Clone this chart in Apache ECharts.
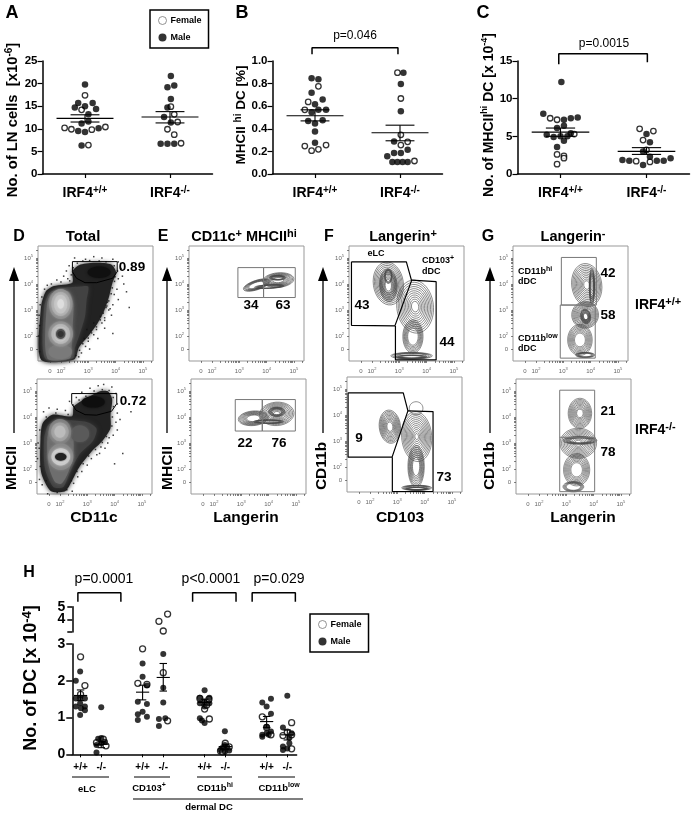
<!DOCTYPE html>
<html>
<head>
<meta charset="utf-8">
<title>IRF4 DC</title>
<script src="https://cdn.jsdelivr.net/npm/echarts@6/dist/echarts.min.js"></script>
<style>
html,body{margin:0;padding:0;background:#fff;}
#chart{width:695px;height:816px;}
</style>
</head>
<body>
<div id="chart"></div>
<script>
// A: LN cells
var aFemale = [[1.0,17.4],[.96,14.2],[.76,10.2],[.84,9.9],[1.08,9.8],[1.24,10.4],[1.04,6.4],[2.01,14.9],[2.05,13.2],[2.09,11.5],[1.97,9.9],[2.05,8.7],[2.13,6.8]];
var aMale = [[1.0,19.8],[.92,15.7],[1.09,15.7],[.88,14.7],[1.0,15],[1.13,14.4],[1.04,13.2],[1.04,11.6],[.96,11.2],[.92,9.5],[1.0,9.3],[1.16,10.1],[.96,6.3],[2.01,21.7],[1.97,19.2],[2.05,19.6],[2.01,16.6],[1.97,14.7],[1.93,12.6],[2.01,11.4],[1.89,6.7],[1.97,6.7],[2.05,6.7]];
var aMean = [[1,12.3,11.5,13.1],[2,12.6,11.3,13.8]];
// B: MHCII hi %
var bFemale = [[1.04,.776],[.92,.638],[.88,.568],[.88,.247],[1.13,.256],[.96,.206],[1.04,.218],[1.97,.897],[2.01,.668],[2.01,.347],[2.01,.256],[2.09,.285],[2.17,.115]];
var bMale = [[.96,.847],[1.04,.838],[.96,.718],[1.09,.659],[1.0,.618],[.96,.547],[1.04,.568],[1.13,.568],[.92,.468],[1.09,.476],[1.0,.447],[1.0,.376],[1.0,.276],[2.04,.897],[2.01,.797],[2.01,.556],[1.93,.288],[2.09,.215],[1.85,.156],[1.93,.185],[2.01,.185],[1.91,.106],[1.97,.106],[2.03,.106],[2.09,.106]];
var bMean = [[1,.515,.47,.568],[2,.365,.294,.432]];
var bBracket = [[.965,1.06],[.965,1.118],[1.976,1.118],[1.976,1.06]];
// C: MHCII hi number
var cFemale = [[.88,7.4],[.96,7.2],[1.16,5.3],[.96,2.6],[1.04,2.4],[1.04,2.1],[.96,1.3],[1.92,6],[2.08,5.7],[1.96,4.5],[1.88,1.7],[2.04,1.6],[2,3.2]];
var cMale = [[1.01,12.2],[.8,8],[1.04,7.2],[1.12,7.4],[1.2,7.5],[1.04,6.4],[.96,6.1],[.84,5.2],[.92,4.9],[1.0,5],[1.08,5],[1.12,5.4],[1.04,4.4],[.96,3.6],[2,5.3],[2.04,4.2],[1.96,3],[2.04,2.3],[1.72,1.85],[1.8,1.75],[1.96,1.2],[2.12,1.75],[2.2,1.75],[2.28,2.1]];
var cMean = [[1,5.56,5,6.1],[2,3,2.6,3.5]];
var cBracket = [[.98,14.56],[.98,15.97],[2.01,15.97],[2.01,14.82]];
// H: DC subsets, lower part 0-3 and upper part 3-5 of the broken axis
var hFemale = [[1,2.65],[1.21,1.87],[1,1.63],[1.77,.32],[2.23,.23],[2.1,.41],[4,2.87],[3.77,1.93],[4.21,1.9],[5,2.22],[5.21,.91],[6.77,1.52],[7.21,1.5],[7,1.23],[7.23,.96],[7.1,1.34],[8,.3],[7.77,.09],[8.19,.2],[7.87,.07],[9.79,1.02],[10,.73],[10.21,.53],[11.21,.86],[10.79,.51],[11,.6],[11.21,.15],[11.21,.53]];
var hMale = [[.98,2.25],[.77,2],[.77,1.52],[.98,1.07],[1.21,1.52],[.77,1.3],[1.21,1.3],[1.21,1.2],[.98,1.39],[.98,1.54],[1.02,1.25],[2,1.28],[1.77,.05],[2,.44],[1.77,.25],[2.18,.34],[2,.3],[1.85,.42],[4,2.47],[4,2.11],[3.77,1.43],[4.21,1.37],[3.77,1.09],[4.21,1.02],[3.77,.93],[4,1.16],[4.21,1.87],[5,2.73],[5,1.81],[5,1.41],[4.79,.96],[5.1,.98],[4.79,.77],[7,1.74],[6.77,1.54],[7.23,1.54],[7,1.43],[6.77,1.39],[7.23,1.39],[7,1.3],[6.77,.98],[6.87,.92],[7,.85],[7.98,.63],[7.77,.12],[7.98,.07],[8.19,.1],[7.87,.18],[8.1,.2],[7.98,.25],[9.79,1.41],[10.21,1.51],[10,1.3],[10.21,1.1],[9.79,.53],[9.79,.48],[10,.57],[10.21,.62],[10,.75],[10.1,.53],[11,1.59],[10.79,.73],[11.1,.44],[10.79,.21],[10.79,.12],[11.21,.57],[11.1,.3],[11,.16]];
var hFemaleTop = [[5.21,4.42],[4.79,3.84],[5,3.08]];
var hMean = [[1,1.6,1.46,1.75],[2,.27,.18,.34],[4,1.69,1.48,1.88],[5,2.09,1.72,2.47],[7,1.41,1.34,1.5],[8,.21,.14,.27],[10,.89,.73,1.03],[11,.53,.39,.66]];
var hBracket1 = [[.87,5.39],[.87,6.1],[2.95,6.1],[2.95,5.39]];
var hBracket2 = [[6.42,5.39],[6.42,6.1],[8.52,6.1],[8.52,5.39]];
var hBracket3 = [[9.3,5.39],[9.3,6.1],[11.39,6.1],[11.39,5.39]];
var hTicks = [1,2,4,5,7,8,10,11];
var hTickLabels = ['+/+','-/-','+/+','-/-','+/+','-/-','+/+','-/-'];

// flow plots: axes in log10 decades, "0" sits below 10^2
var flowMajor = [2,3,4,5];
var flowMinor = [1.6,2,2.3,2.48,2.6,2.7,2.78,2.85,2.9,2.95,3,3.3,3.48,3.6,3.7,3.78,3.85,3.9,3.95,4,4.3,4.48,4.6,4.7,4.78,4.85,4.9,4.95,5,5.3];
var contourLevels = [1,.92,.84,.76,.68,.6,.52,.44,.36,.28,.2,.12];

// D density: outline polygons then lobes [x,y,rx,ry,grey]
var dTopLayers = [
    {grey:34, pts:[[1.27,1.1],[1.27,3.1],[1.45,3.72],[1.75,3.92],[2.42,4.05],[2.42,4.5],[2.72,4.75],[3.31,4.82],[3.84,4.75],[4.02,4.45],[3.88,4.03],[3.76,3.51],[3.57,2.94],[3.33,2.47],[3.02,2.02],[2.66,1.57],[2.48,1.1]]},
    {grey:66, pts:[[1.42,1.15],[1.38,3.07],[1.57,3.64],[1.96,3.83],[2.7,3.9],[3,3.9],[2.94,3.39],[2.88,2.75],[2.7,2.11],[2.51,1.53],[2.45,1.15]]},
    {grey:110, pts:[[1.5,1.15],[1.48,3.13],[1.66,3.64],[2.27,3.71],[2.45,3.26],[2.43,2.36],[2.39,1.59],[2.33,1.15]]}
];
var dTopLobes = [[3.4,4.45,.42,.22,16],[1.97,1.4,.43,.28,122],[1.99,3.23,.43,.58,142],[1.99,3.23,.34,.46,174],[1.99,3.23,.24,.36,196],[1.99,3.23,.12,.18,222],[1.99,2.08,.45,.49,140],[1.99,2.08,.34,.38,181],[1.99,2.08,.24,.28,208],[1.99,2.08,.17,.19,85],[1.99,2.08,.11,.115,51]];
var dTopGate = [[2.42,4.86],[4.06,4.86],[4.06,4.47],[3.89,4.22],[3.31,4.05],[2.88,4.05],[2.57,4.22],[2.42,4.47],[2.42,4.86]];
var dTopEvents = [[2.1,4.3],[2.2,4.5],[2.3,4.7],[2.5,5],[2.9,4.95],[3.2,5.05],[3.5,5],[3.9,4.95],[4.1,4.85],[4.2,4.6],[4.25,4.3],[4.1,4.2],[4.3,4],[4.05,3.8],[3.95,3.6],[4.1,3.4],[3.9,3.2],[3.75,3],[3.85,2.8],[3.6,2.7],[3.5,2.5],[3.6,2.3],[3.3,2.25],[3.2,2.05],[3.35,1.9],[3,1.8],[2.9,1.6],[3.05,1.5],[2.75,1.35],[2.65,1.2],[4.6,4.8],[4.4,3.7],[4.5,3.1],[3.9,2.1],[1.18,2],[1.2,2.8],[1.3,3.5],[1.5,3.95],[1.85,4.15],[2.25,4.2],[3.7,3.3],[3.65,3.1],[3.45,2.75],[3.1,2.2],[2.85,1.9],[2.45,4.62],[2.6,4.8],[2.8,4.88],[3.05,4.9],[3.4,4.88],[3.65,4.85],[3.95,4.7],[4.07,4.5],[3.98,4.28],[3.96,4.1],[3.88,3.85],[3.84,3.62],[3.75,3.35],[3.68,3.15],[3.55,2.88],[3.44,2.62],[3.3,2.35],[3.12,2.12],[3,1.92],[2.8,1.7],[2.68,1.45],[2.55,1.25],[1.22,1.4],[1.22,2.4],[1.24,3.2],[1.4,3.8],[1.65,4],[2,4.08],[2.32,4.12],[2.38,4.35],[3.8,3.05],[3.6,2.6],[3.2,2.5],[2.95,2.25]];
var dBotLayers = [
    {grey:34, pts:[[1.66,1.16],[1.31,1.89],[1.29,3.17],[1.37,3.77],[1.72,4.09],[2.45,4.03],[2.51,4.41],[3,4.73],[3.47,4.99],[3.75,4.99],[3.91,4.69],[3.85,4.07],[3.85,3.57],[3.55,3.08],[3.18,2.7],[2.7,2.06],[2.34,1.35],[2.17,1.14]]},
    {grey:66, pts:[[1.76,1.31],[1.45,2.02],[1.42,3.17],[1.57,3.68],[2,3.87],[2.98,3.81],[3.34,3.55],[3.22,3.1],[2.73,2.59],[2.37,1.89],[2.12,1.31]]},
    {grey:110, pts:[[1.82,1.5],[1.58,2.15],[1.54,3.17],[1.7,3.68],[2.25,3.73],[2.47,3.36],[2.49,2.53],[2.31,1.89],[2.06,1.44]]}
];
var dBotLobes = [[3.22,4.58,.42,.22,14],[2.73,3.36,.34,.32,90],[2,3.43,.41,.49,126],[2,3.43,.32,.36,160],[2,3.43,.2,.23,188],[2.03,2.47,.46,.51,138],[2.03,2.47,.34,.33,200],[2.03,2.47,.27,.23,228],[2.03,2.47,.21,.15,34]];
var dBotGate = [[2.43,4.9],[4.08,4.9],[4.08,4.51],[3.89,4.22],[3.34,4.07],[2.92,4.09],[2.59,4.26],[2.43,4.51],[2.43,4.9]];
var dBotEvents = [[1.4,4.2],[1.6,4.35],[1.9,4.3],[2.2,4.25],[2.35,4.6],[2.6,4.75],[2.8,4.95],[3.1,5.1],[3.4,5.2],[3.6,5.25],[3.9,5.15],[4.05,4.9],[4.1,4.5],[4.1,4.15],[4.05,3.8],[4.1,3.5],[3.8,3.2],[3.75,3],[3.5,2.85],[3.45,2.6],[3.15,2.4],[3,2.15],[2.8,1.9],[2.65,1.7],[2.5,1.45],[2.45,1.15],[1.25,1.6],[1.35,1.4],[1.18,2.4],[1.2,3],[4.3,2.6],[4,2.2],[4.6,4.2],[2.2,1.02],[1.55,1.05],[3.35,2.55],[3.65,2.8],[3.95,3.3],[4.2,3.9],[2.48,4.46],[2.7,4.65],[2.95,4.8],[3.25,5],[3.55,5.05],[3.8,5.02],[3.95,4.75],[3.96,4.4],[3.92,4],[3.9,3.65],[3.7,3.25],[3.55,3.02],[3.3,2.75],[3.05,2.5],[2.85,2.2],[2.62,1.9],[2.42,1.55],[2.25,1.2],[1.9,1.1],[1.5,1.55],[1.28,2.1],[1.24,2.8],[1.26,3.5],[1.5,4],[1.85,4.15],[2.3,4.1]];

// contour families [x,y,rx,ry,tilt,rings]
var eTopContours = [[3.64,3.96,.51,.18,-18,6],[4.43,4.15,.57,.28,-5,9],[4.4,4.24,.3,.09,0,5],[4.1,3.9,.55,.07,-3,4]];
var eTopGate = [[[2.95,4.63],[3.89,4.63],[3.89,3.48],[2.95,3.48],[2.95,4.63]],[[3.89,4.63],[5.05,4.63],[5.05,3.48],[3.89,3.48],[3.89,4.63]]];
var eBotContours = [[3.44,3.95,.55,.28,-5,8],[4.3,4.12,.63,.45,-4,11],[4.3,4.2,.3,.18,0,6],[4,3.82,.55,.07,0,4]];
var eBotGate = [[[2.78,4.67],[3.77,4.67],[3.77,3.46],[2.78,3.46],[2.78,4.67]],[[3.77,4.67],[4.98,4.67],[4.98,3.46],[3.77,3.46],[3.77,4.67]]];
var fTopContours = [[2.6,4.02,.55,.83,-8,8],[2.6,3.95,.32,.62,-3,9],[2.6,4.3,.14,.28,0,4],[3.58,3.13,.67,1.02,-6,11],[3.5,1.98,.37,.64,0,7],[3.45,1.24,.76,.13,0,5],[3.45,1.2,.55,.07,0,5]];
var fTopGate = [[[1.25,4.85],[3.26,4.85],[3.45,4.13],[2.84,2.39],[1.25,2.41],[1.25,4.85]],[[3.45,4.15],[4.35,4.09],[4.35,1.08],[2.86,1.08],[2.86,2.39]]];
var fBotContours = [[2.73,3.55,.39,.64,-6,10],[3.69,4.26,.25,.25,0,1],[3.71,3.17,.55,.96,-4,12],[3.69,2.02,.3,.8,0,8],[3.71,1.2,.55,.1,0,5],[3.71,1.17,.4,.05,0,4]];
var fBotGate = [[[1.2,4.85],[3.22,4.85],[3.39,4.16],[2.81,2.38],[1.2,2.38],[1.2,4.85]],[[3.39,4.16],[4.31,4.13],[4.31,1.06],[2.82,1.06],[2.82,2.38]]];
var gTopContours = [[3.86,3.96,.55,.83,-8,11],[4.05,3.9,.1,.7,0,6],[3.8,2.81,.49,.51,-10,9],[3.82,2.75,.18,.28,-10,8],[3.61,1.85,.45,.6,0,8],[3.8,1.27,.35,.1,0,5]];
var gTopGate = [[[2.93,5.02],[4.21,5.02],[4.21,3.19],[2.93,3.19],[2.93,5.02]],[[2.89,3.19],[4.17,3.19],[4.17,1.15],[2.89,1.15],[2.89,3.19]]];
var gBotContours = [[3.5,4.14,.43,.58,0,10],[3.44,2.99,.67,.58,0,11],[3.5,3.1,.62,.15,0,6],[3.38,1.97,.48,.62,0,8],[3.26,1.32,.38,.2,0,5]];
var gBotGate = [[[2.76,5.03],[4.04,5.03],[4.04,1.13],[2.76,1.13],[2.76,5.03]],[[2.76,3.22],[4.04,3.22]]];

var FONT = '"Liberation Sans", Arial, sans-serif';
var myChart = echarts.init(document.getElementById('chart'));

var grids = [], xAxes = [], yAxes = [], series = [], graphics = [];

function richSup(size, supSize) {
    return {
        b: {fontFamily: FONT, fontWeight: 'bold', fontSize: size, color: '#000', fill: '#000', lineHeight: size + 3},
        s: {fontFamily: FONT, fontWeight: 'bold', fontSize: supSize, color: '#000', fill: '#000', verticalAlign: 'top', lineHeight: size + 3}
    };
}

function text(x, y, str, size, opt) {
    opt = opt || {};
    var style = {
        text: str,
        fontFamily: FONT,
        fontSize: size,
        fontWeight: opt.weight || 'bold',
        fill: '#000',
        align: opt.align || 'center',
        verticalAlign: 'middle'
    };
    if (opt.sup) {
        style.rich = richSup(size, opt.sup);
    }
    graphics.push({type: 'text', x: x, y: y, rotation: opt.vertical ? Math.PI / 2 : 0, silent: true, style: style, z: 50});
}

function addGrid(left, top, width, height, xa, ya, extra) {
    var idx = grids.length;
    grids.push(Object.assign({left: left, top: top, width: width, height: height, containLabel: false}, extra || {}));
    xa.gridIndex = idx;
    ya.gridIndex = idx;
    xAxes.push(xa);
    yAxes.push(ya);
    return idx;
}

function dots(idx, name, data, size) {
    series.push({
        name: name,
        type: 'scatter',
        xAxisIndex: idx,
        yAxisIndex: idx,
        data: data,
        symbol: 'circle',
        symbolSize: size,
        clip: false,
        itemStyle: name === 'Female'
            ? {color: '#fff', borderColor: '#000', borderWidth: 1.3}
            : {color: '#000'},
        z: name === 'Female' ? 3 : 4
    });
}

// mean line with sem whiskers
function meanBars(idx, data, meanHalf, semHalf, width) {
    series.push({
        type: 'custom',
        xAxisIndex: idx,
        yAxisIndex: idx,
        data: data,
        silent: true,
        z: 6,
        encode: {x: 0, y: [1, 2, 3]},
        renderItem: function (params, api) {
            var x = api.value(0), m = api.value(1), lo = api.value(2), hi = api.value(3);
            var segs = [[[x - meanHalf, m], [x + meanHalf, m]], [[x - semHalf, lo], [x + semHalf, lo]], [[x - semHalf, hi], [x + semHalf, hi]], [[x, lo], [x, hi]]];
            return {
                type: 'group',
                children: segs.map(function (s) {
                    var a = api.coord(s[0]), b = api.coord(s[1]);
                    return {type: 'line', shape: {x1: a[0], y1: a[1], x2: b[0], y2: b[1]}, style: {stroke: '#000', lineWidth: width}};
                })
            };
        }
    });
}

function bracket(idx, data) {
    series.push({
        type: 'line',
        xAxisIndex: idx,
        yAxisIndex: idx,
        data: data,
        symbol: 'none',
        clip: false,
        silent: true,
        lineStyle: {color: '#000', width: 1.5}
    });
}

function dotAxisX() {
    return {
        type: 'value', min: .5, max: 2.5,
        axisLine: {lineStyle: {color: '#000', width: 1.5}},
        axisTick: {length: 4, customValues: [1, 2], lineStyle: {color: '#000', width: 1.2}},
        axisLabel: {
            customValues: [1, 2], margin: 11,
            formatter: function (v) { return v === 1 ? '{b|IRF4}{s|+/+}' : '{b|IRF4}{s|-/-}'; },
            rich: richSup(14, 10)
        },
        splitLine: {show: false}
    };
}

function dotAxisY(max, interval, decimals) {
    return {
        type: 'value', min: 0, max: max, interval: interval,
        axisLine: {show: true, lineStyle: {color: '#000', width: 1.5}},
        axisTick: {show: true, length: 5, lineStyle: {color: '#000', width: 1.2}},
        axisLabel: {
            fontFamily: FONT, fontWeight: 'bold', fontSize: 11.5, color: '#000', margin: 5,
            formatter: function (v) { return v.toFixed(decimals); }
        },
        splitLine: {show: false}
    };
}

// panel A
var gA = addGrid(42.5, 61, 170, 113, dotAxisX(), dotAxisY(25, 5, 0));
dots(gA, 'Female', aFemale, 5.5);
dots(gA, 'Male', aMale, 6.5);
meanBars(gA, aMean, .335, .17, 1.1);
// panel B
var gB = addGrid(272.5, 61, 170, 113, dotAxisX(), dotAxisY(1, .2, 1));
dots(gB, 'Female', bFemale, 5.5);
dots(gB, 'Male', bMale, 6.5);
meanBars(gB, bMean, .335, .17, 1.1);
bracket(gB, bBracket);
// panel C
var gC = addGrid(517.5, 61, 172, 113, dotAxisX(), dotAxisY(15, 5, 0));
dots(gC, 'Female', cFemale, 5.5);
dots(gC, 'Male', cMale, 6.5);
meanBars(gC, cMean, .335, .17, 1.1);
bracket(gC, cBracket);

// flow plot frame with its tiny log axis
function flowAxis(vertical, zero) {
    var labelValues = [zero].concat(flowMajor);
    var minor = flowMinor.slice();
    minor[0] = zero;
    return {
        type: 'value',
        min: vertical ? 1.04 : 1.16,
        max: vertical ? 5.46 : 5.37,
        axisLine: {show: false},
        axisTick: {show: true, length: 2, customValues: minor, lineStyle: {color: '#333', width: .6}},
        axisLabel: {
            customValues: labelValues, margin: vertical ? 5 : 6,
            formatter: function (v) { return v === zero ? '{a|0}' : '{a|10}{p|' + v + '}'; },
            rich: {
                a: {fontFamily: FONT, fontSize: 6, color: '#666', lineHeight: 8},
                p: {fontFamily: FONT, fontSize: 4, color: '#666', verticalAlign: 'top', lineHeight: 8}
            }
        },
        splitLine: {show: false}
    };
}

function flowGrid(left, top) {
    return addGrid(left, top, 115, 115, flowAxis(false, 1.6), flowAxis(true, 1.5), {show: true, borderColor: '#999', borderWidth: 1, backgroundColor: '#fff'});
}

function density(idx, layers, lobes) {
    series.push({
        type: 'custom', xAxisIndex: idx, yAxisIndex: idx, silent: true, clip: false, z: 2,
        data: layers.map(function (l, i) { return [i]; }),
        renderItem: function (params, api) {
            var l = layers[params.dataIndex];
            return {
                type: 'polygon',
                shape: {points: l.pts.map(function (p) { return api.coord(p); }), smooth: .25},
                style: {fill: 'rgb(' + l.grey + ',' + l.grey + ',' + l.grey + ')', shadowBlur: 5, shadowColor: 'rgba(' + l.grey + ',' + l.grey + ',' + l.grey + ',.9)'}
            };
        }
    });
    series.push({
        type: 'custom', xAxisIndex: idx, yAxisIndex: idx, silent: true, clip: false, z: 2,
        data: lobes.map(function (l, i) { return [i]; }),
        renderItem: function (params, api) {
            var l = lobes[params.dataIndex];
            var c = api.coord([l[0], l[1]]), s = api.size([l[2], l[3]]);
            var g = 'rgb(' + l[4] + ',' + l[4] + ',' + l[4] + ')';
            return {type: 'ellipse', shape: {cx: c[0], cy: c[1], rx: s[0], ry: s[1]}, style: {fill: g, shadowBlur: 3, shadowColor: g}};
        }
    });
}

function events(idx, data) {
    series.push({
        type: 'scatter', xAxisIndex: idx, yAxisIndex: idx, silent: true, data: data,
        symbol: 'rect', symbolSize: 1.5, itemStyle: {color: '#111'}, z: 2
    });
}

function contours(idx, families) {
    series.push({
        type: 'custom', xAxisIndex: idx, yAxisIndex: idx, silent: true, clip: false, z: 3,
        data: families.map(function (f, i) { return [i]; }),
        renderItem: function (params, api) {
            var f = families[params.dataIndex];
            var c = api.coord([f[0], f[1]]), s = api.size([f[2], f[3]]);
            return {
                type: 'group',
                children: contourLevels.slice(0, f[5]).map(function (lev) {
                    return {
                        type: 'ellipse',
                        originX: c[0], originY: c[1],
                        rotation: -f[4] * Math.PI / 180,
                        shape: {cx: c[0], cy: c[1], rx: s[0] * lev, ry: s[1] * lev},
                        style: {fill: 'none', stroke: '#444', lineWidth: .6}
                    };
                })
            };
        }
    });
}

function gates(idx, paths, color, width) {
    paths.forEach(function (p) {
        series.push({
            type: 'line', xAxisIndex: idx, yAxisIndex: idx, data: p, symbol: 'none', clip: false, silent: true, z: 8,
            lineStyle: {color: color, width: width}
        });
    });
}

var gD1 = flowGrid(38, 246);
density(gD1, dTopLayers, dTopLobes);
events(gD1, dTopEvents);
gates(gD1, [dTopGate], '#000', 1);
var gD2 = flowGrid(37, 379);
density(gD2, dBotLayers, dBotLobes);
events(gD2, dBotEvents);
gates(gD2, [dBotGate], '#000', 1);
var gE1 = flowGrid(189, 246);
contours(gE1, eTopContours);
gates(gE1, eTopGate, '#777', 1);
var gE2 = flowGrid(191, 379);
contours(gE2, eBotContours);
gates(gE2, eBotGate, '#777', 1);
var gF1 = flowGrid(349, 246);
contours(gF1, fTopContours);
gates(gF1, fTopGate, '#000', 1.2);
var gF2 = flowGrid(347, 377);
contours(gF2, fBotContours);
gates(gF2, fBotGate, '#000', 1.2);
var gG1 = flowGrid(513, 246);
contours(gG1, gTopContours);
gates(gG1, gTopGate, '#777', 1);
var gG2 = flowGrid(516, 379);
contours(gG2, gBotContours);
gates(gG2, gBotGate, '#777', 1);

// panel H: two grids share the x scale, the y axis is broken at 3
var hXMin = .6, hXMax = 11.45;
var gHLow = addGrid(72.3, 644, 224.3, 110.3, {
    type: 'value', min: hXMin, max: hXMax,
    axisLine: {lineStyle: {color: '#000', width: 1.5}},
    axisTick: {length: 3, customValues: hTicks, lineStyle: {color: '#000', width: 1}},
    axisLabel: {
        customValues: hTicks, margin: 8,
        fontFamily: FONT, fontWeight: 'bold', fontSize: 10, color: '#000',
        formatter: function (v) { return hTickLabels[hTicks.indexOf(v)]; }
    },
    splitLine: {show: false}
}, {
    type: 'value', min: 0, max: 3, interval: 1,
    axisLine: {show: true, lineStyle: {color: '#000', width: 1.5}},
    axisTick: {show: true, length: 6, lineStyle: {color: '#000', width: 1.5}},
    axisLabel: {fontFamily: FONT, fontWeight: 'bold', fontSize: 14, color: '#000', margin: 7},
    splitLine: {show: false}
});
var gHTop = addGrid(72.3, 606.7, 224.3, 25.3, {
    type: 'value', min: hXMin, max: hXMax, show: false
}, {
    type: 'value', min: 3, max: 5, position: 'left',
    axisLine: {show: true, lineStyle: {color: '#000', width: 1.5}},
    axisTick: {show: true, length: 5, customValues: [3, 4, 5], lineStyle: {color: '#000', width: 1.5}},
    axisLabel: {
        customValues: [5], showMaxLabel: true, margin: 7,
        fontFamily: FONT, fontWeight: 'bold', fontSize: 14, color: '#000'
    },
    splitLine: {show: false}
});
// 4 and 5 sit too close for one axis to keep both labels, so 4 gets its own copy of the scale
yAxes.push({
    gridIndex: gHTop, type: 'value', min: 3, max: 5, position: 'left',
    axisLine: {show: false},
    axisTick: {show: false},
    axisLabel: {
        customValues: [4], margin: 7,
        fontFamily: FONT, fontWeight: 'bold', fontSize: 14, color: '#000'
    },
    splitLine: {show: false}
});
dots(gHLow, 'Female', hFemale, 6);
dots(gHLow, 'Male', hMale, 6);
meanBars(gHLow, hMean, .32, .18, 1.1);
dots(gHTop, 'Female', hFemaleTop, 6);
bracket(gHTop, hBracket1);
bracket(gHTop, hBracket2);
bracket(gHTop, hBracket3);

// panel letters
text(12, 13, 'A', 18); text(242, 13, 'B', 18); text(483, 13, 'C', 18);
text(19, 237, 'D', 16); text(163, 237, 'E', 16); text(329, 237, 'F', 16); text(488, 237, 'G', 16); text(29, 573, 'H', 16);
// y titles of the top row
text(13, 120, '{b|No. of LN cells  [x10}{s|-6}{b|]}', 14.8, {vertical: true, sup: 10});
text(241, 115, '{b|MHCII }{s|hi}{b| DC [%]}', 13.5, {vertical: true, sup: 10});
text(489, 115, '{b|No. of MHCII}{s|hi}{b| DC [x 10}{s|-4}{b|]}', 14, {vertical: true, sup: 9});
text(355, 36, 'p=0.046', 12, {weight: 'normal'});
text(604, 44, 'p=0.0015', 12, {weight: 'normal'});
// flow titles
text(83, 237, 'Total', 15);
text(244, 237, '{b|CD11c}{s|+}{b| MHCII}{s|hi}', 14.5, {sup: 11});
text(403, 237, '{b|Langerin}{s|+}', 14.5, {sup: 11});
text(573, 237, '{b|Langerin}{s|-}', 14.5, {sup: 11});
// gate numbers
var gateNumbers = [[132,267,'0.89'],[133,401,'0.72'],[251,305,'34'],[283,305,'63'],[245,443,'22'],[279,443,'76'],[362,305,'43'],[447,342,'44'],[359,438,'9'],[444,477,'73'],[608,273,'42'],[608,315,'58'],[608,411,'21'],[608,452,'78']];
gateNumbers.forEach(function (n) { text(n[0], n[1], n[2], 13.5); });
text(635, 305, '{b|IRF4}{s|+/+}', 14, {align: 'left', sup: 11});
text(635, 430, '{b|IRF4}{s|-/-}', 14, {align: 'left', sup: 11});
text(376, 254, 'eLC', 9);
text(422, 261, '{b|CD103}{s|+}', 9, {align: 'left', sup: 7});
text(422, 272, 'dDC', 9, {align: 'left'});
text(518, 272, '{b|CD11b}{s|hi}', 9, {align: 'left', sup: 7});
text(518, 282, 'dDC', 9, {align: 'left'});
text(518, 339, '{b|CD11b}{s|low}', 9, {align: 'left', sup: 7});
text(518, 349, 'dDC', 9, {align: 'left'});
// flow axis titles and arrows
[[14,'MHCII',12,468],[167,'MHCII',168,468],[323,'CD11b',322,466],[490,'CD11b',490,466]].forEach(function (a) {
    graphics.push({type: 'line', silent: true, shape: {x1: a[0], y1: 433, x2: a[0], y2: 275}, style: {stroke: '#000', lineWidth: 1.3}});
    graphics.push({type: 'polygon', silent: true, shape: {points: [[a[0], 267], [a[0] - 5, 281], [a[0] + 5, 281]]}, style: {fill: '#000'}});
    text(a[2], a[3], a[1], 15.5, {vertical: true});
});
text(94, 518, 'CD11c', 15.5);
text(246, 518, 'Langerin', 15.5);
text(400, 518, 'CD103', 15.5);
text(583, 518, 'Langerin', 15.5);
// panel H text
text(31, 678, '{b|No. of DC [x 10}{s|-4}{b|]}', 18, {vertical: true, sup: 13});
text(104, 579, 'p=0.0001', 14, {weight: 'normal'});
text(211, 579, 'p<0.0001', 14, {weight: 'normal'});
text(279, 579, 'p=0.029', 14, {weight: 'normal'});
[[72,109],[134,170],[197,232],[258,295]].forEach(function (l) {
    graphics.push({type: 'line', silent: true, shape: {x1: l[0], y1: 777, x2: l[1], y2: 777}, style: {stroke: '#000', lineWidth: 1}});
});
graphics.push({type: 'line', silent: true, shape: {x1: 133, y1: 799, x2: 303, y2: 799}, style: {stroke: '#000', lineWidth: 1.2}});
text(87, 789, 'eLC', 9.5);
text(149, 788, '{b|CD103}{s|+}', 9.5, {sup: 7});
text(215, 788, '{b|CD11b}{s|hi}', 9.5, {sup: 7});
text(279, 788, '{b|CD11b}{s|low}', 9.5, {sup: 7});
text(209, 807, 'dermal DC', 9.5);

function legendAt(left, top) {
    return {
        left: left, top: top, orient: 'vertical',
        padding: [6, 7, 6, 8], itemGap: 8, itemWidth: 8, itemHeight: 8,
        borderColor: '#000', borderWidth: 1.5, backgroundColor: '#fff', selectedMode: false,
        icon: 'circle',
        textStyle: {fontFamily: FONT, fontWeight: 'bold', fontSize: 9, color: '#000', padding: [0, 0, 0, -1]},
        data: [
            {name: 'Female', itemStyle: {color: '#fff', borderColor: '#777', borderWidth: 1}},
            {name: 'Male', itemStyle: {color: '#000'}}
        ]
    };
}

var option = {
    animation: false,
    backgroundColor: '#fff',
    textStyle: {fontFamily: FONT},
    legend: [legendAt(150, 10), legendAt(310, 614)],
    grid: grids,
    xAxis: xAxes,
    yAxis: yAxes,
    series: series,
    graphic: {elements: graphics}
};
myChart.setOption(option);
window.addEventListener('resize', function () {
    myChart.resize();
});
</script>
</body>
</html>
